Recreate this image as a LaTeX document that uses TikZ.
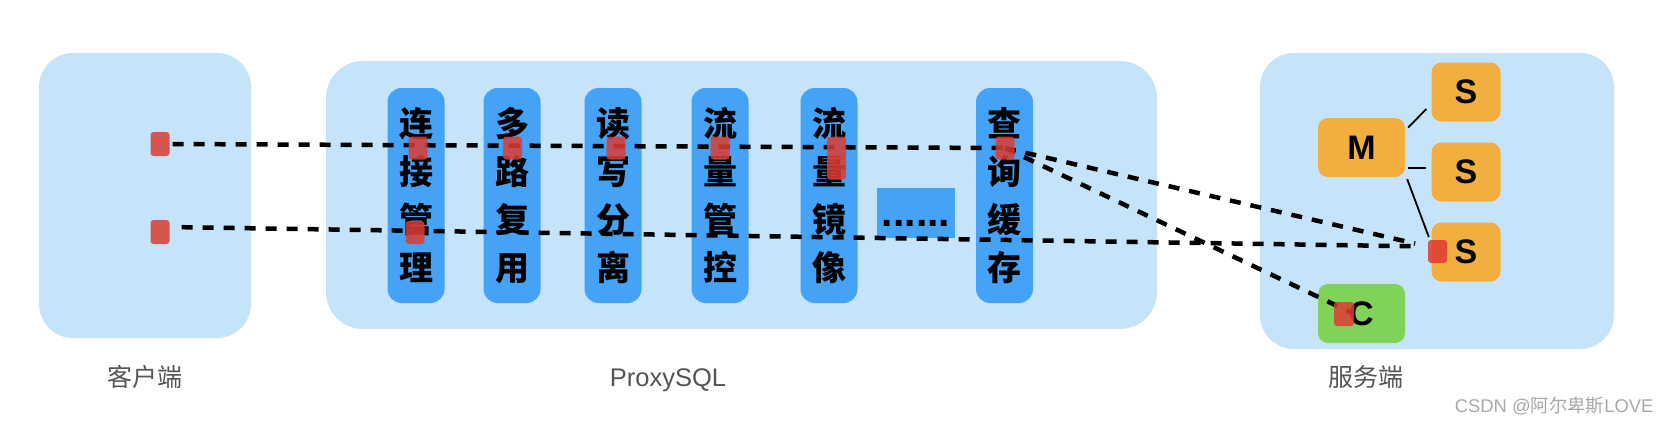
\documentclass[tikz,border=0pt]{standalone}
\usepackage{fontspec}
\setmainfont{Liberation Sans}
\newfontfamily\cjk{Noto Sans CJK SC}
\usetikzlibrary{positioning}
\definecolor{panelblue}{HTML}{C5E3F9}
\definecolor{colblue}{HTML}{45A3F7}
\definecolor{dbyellow}{HTML}{F2AE3F}
\definecolor{dbgreen}{HTML}{7ED358}
\definecolor{dotred}{RGB}{220,60,50}
\definecolor{labelgray}{HTML}{555555}
\definecolor{markgray}{HTML}{A8A8A8}
\pgfdeclarelayer{front}
\pgfsetlayers{main,front}

\begin{document}
\begin{tikzpicture}[x=1pt,y=-1pt,
  panel/.style={fill=panelblue,rounded corners=34pt,inner sep=0pt},
  colbox/.style={fill=colblue,rounded corners=14pt,minimum width=57pt,minimum height=215pt,
    inner sep=0pt,align=center,font=\cjk\bfseries\fontsize{34}{48}\selectfont},
  dbbox/.style={fill=dbyellow,rounded corners=10pt,inner sep=0pt,minimum height=59pt,
    font=\bfseries\fontsize{34}{40}\selectfont},
  reddot/.style={fill=dotred,fill opacity=.85,rounded corners=3pt,inner sep=0pt,
    minimum width=19pt,minimum height=23pt},
  flow/.style={line width=4.5pt,dash pattern=on 11pt off 10pt},
  mslink/.style={line width=1.8pt},
  caption/.style={text=labelgray,font=\cjk\fontsize{25}{30}\selectfont}]
\useasboundingbox (0,0) rectangle (1670,424);

% panels
\node[panel,minimum width=212pt,minimum height=285pt] (client) at (145,195.5) {};
\node[panel,minimum width=831pt,minimum height=268pt,rounded corners=37pt] (proxy) at (741.5,195) {};
\node[panel,minimum width=354pt,minimum height=296pt] (server) at (1437,201) {};

% proxysql features
\node[colbox] (f1) at (416,195.5) {连\\接\\管\\理};
\node[colbox] (f2) at (512,195.5) {多\\路\\复\\用};
\node[colbox] (f3) at (613,195.5) {读\\写\\分\\离};
\node[colbox] (f4) at (720,195.5) {流\\量\\管\\控};
\node[colbox] (f5) at (829,195.5) {流\\量\\镜\\像};
\node[colbox] (f6) at (1004.5,195.5) {查\\询\\缓\\存};
\node[fill=colblue,minimum width=78pt,minimum height=50pt,inner sep=0pt] (more) at (916,212.5) {};
\node[anchor=base,font=\bfseries\fontsize{41}{44}\selectfont] (moredots) at (916,226) {......};

% backend
\node[dbbox,minimum width=87pt] (master) at (1361.5,147.5) {M};
\node[dbbox,minimum width=69pt] (s1) at (1466,92) {S};
\node[dbbox,minimum width=69pt] (s2) at (1466,172) {S};
\node[dbbox,minimum width=69pt] (s3) at (1466,252) {S};
\node[dbbox,minimum width=87pt,fill=dbgreen] (cache) at (1361.5,313.5) {C};
\draw[mslink] ([shift={(3,-20)}]master.east) -- ([shift={(-5,17)}]s1.west);
\draw[mslink] ([shift={(3,20.5)}]master.east) -- ([shift={(-5,-4)}]s2.west);
\draw[mslink] ([shift={(2,2)}]master.south east) -- ([shift={(-2.5,-15)}]s3.west);

% request dots
\begin{pgfonlayer}{front}
\node[reddot,minimum height=24pt] (cl1) at (160,144) {};
\node[reddot,minimum height=24pt] (cl2) at (160,232) {};
\node[reddot] (q1) at (418,148) {};
\node[reddot] (q1b) at (415,232.5) {};
\node[reddot] (q2) at (512.5,148) {};
\node[reddot] (q3) at (616,148) {};
\node[reddot] (q4) at (720,148) {};
\node[reddot] (q5) at (836.5,148) {};
\node[reddot] (q5b) at (836.5,168) {};
\node[reddot] (q6) at (1005,148) {};
\node[reddot] (s3dot) at (1437.5,251.5) {};
\node[reddot,minimum height=24pt,minimum width=20pt] (cdot) at (1344,314) {};
\end{pgfonlayer}

% request paths
\draw[flow,shorten <=3pt] (cl1.east) -- (q6.center);
\draw[flow,shorten >=13pt] (q6.center) -- ([yshift=5pt]s3dot.west);
\draw[flow,shorten >=3pt] (q6.center) -- (cdot.east);
\draw[flow,shorten <=12pt,shorten >=13pt] ([yshift=5pt]cl2.east) -- ([yshift=5pt]s3dot.west);

% captions
\node[caption] (clientlbl) at (145,377) {客户端};
\node[text=labelgray,font=\fontsize{25.5}{30}\selectfont,anchor=base] (proxylbl) at (668,386.5) {ProxySQL};
\node[caption] (serverlbl) at (1366,377) {服务端};
\node[text=markgray,font=\fontsize{18.4}{22}\selectfont,anchor=east] (mark) at (1657,406) {CSDN @{\cjk 阿尔卑斯}LOVE};
\end{tikzpicture}
\end{document}
